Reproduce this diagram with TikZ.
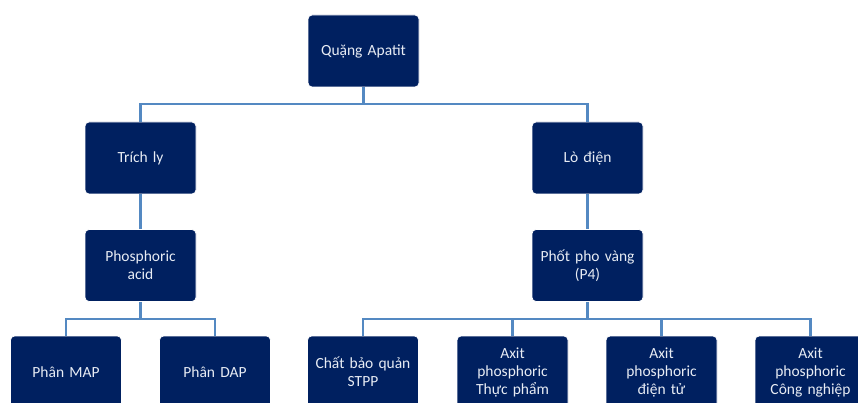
\documentclass[tikz,border=0pt]{standalone}
\usepackage{fontspec}
\setmainfont{Carlito}
\definecolor{navy}{RGB}{0,32,96}
\definecolor{linkblue}{RGB}{84,137,194}
\definecolor{boxtext}{RGB}{232,236,244}
\tikzset{
  box/.style={draw=white, line width=0.8pt, fill=navy, rounded corners=4pt,
    minimum width=111pt, minimum height=72pt, text width=106pt, align=center,
    text=boxtext, inner sep=0pt, font=\fontsize{15.5}{18}\selectfont},
  conn/.style={draw=linkblue, line width=2.6pt}
}
\begin{document}
\begin{tikzpicture}[x=1pt,y=-1pt]
\useasboundingbox (0,0) rectangle (858,403);
\clip (0,0) rectangle (858,403);
\node[box] (top) at (363.5,51) {Quặng Apatit};
\node[box] (trich) at (140.5,158) {Trích ly};
\node[box] (lo) at (587.5,158) {Lò điện};
\node[box] (phos) at (140.5,265.5) {Phosphoric\\acid};
\node[box] (p4) at (587.5,265.5) {Phốt pho vàng\\(P4)};
\node[box] (map) at (66,372) {Phân MAP};
\node[box] (dap) at (215,372) {Phân DAP};
\node[box] (stpp) at (363,372) {Chất bảo quản\\STPP};
\node[box] (tp) at (512.5,372) {Axit\\phosphoric\\Thực phẩm};
\node[box] (dt) at (661.5,372) {Axit\\phosphoric\\điện tử};
\node[box] (cn) at (810.5,372) {Axit\\phosphoric\\Công nghiệp};
\coordinate (j1) at (363.5,104);
\coordinate (j2) at (140.5,319);
\coordinate (j3) at (587.5,319);
\draw[conn] (top.south) -- (j1);
\draw[conn] (trich.north) |- (j1) -| (lo.north);
\draw[conn] (trich.south) -- (phos.north);
\draw[conn] (lo.south) -- (p4.north);
\draw[conn] (phos.south) -- (j2);
\draw[conn] (map.north) |- (j2) -| (dap.north);
\draw[conn] (p4.south) -- (j3);
\draw[conn] (stpp.north) |- (j3) -| (cn.north);
\draw[conn] (tp.north) -- (tp.north |- j3);
\draw[conn] (dt.north) -- (dt.north |- j3);
\end{tikzpicture}
\end{document}
